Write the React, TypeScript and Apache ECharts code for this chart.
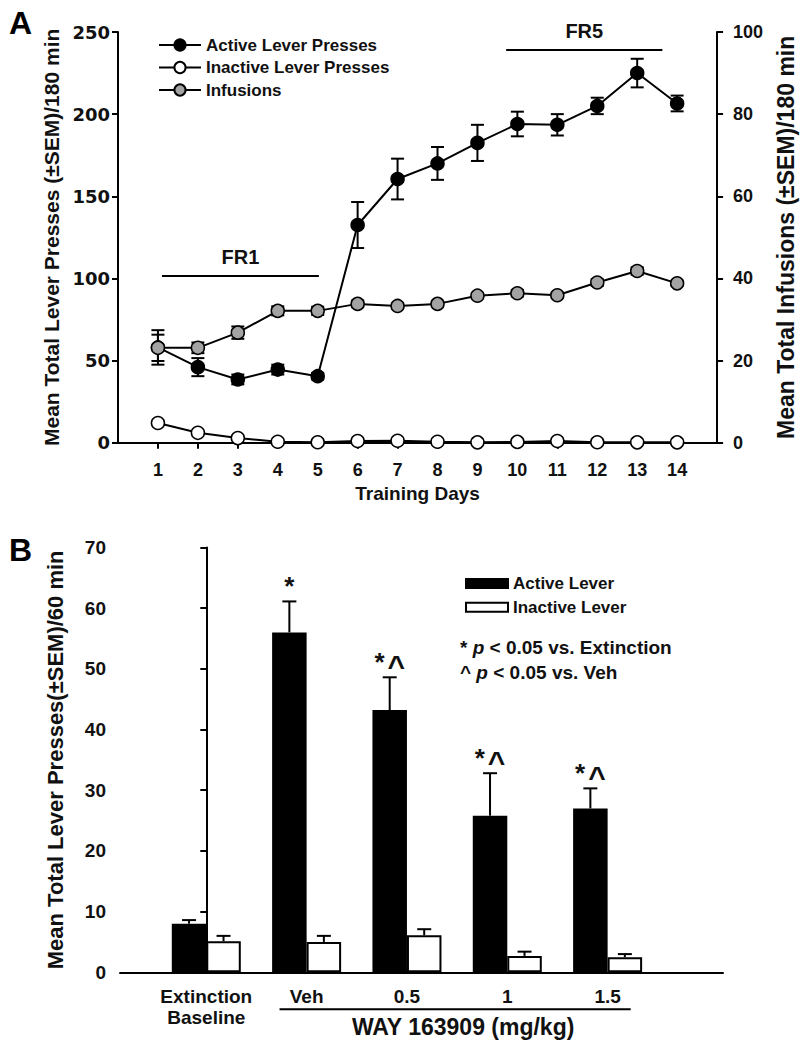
import React, { useEffect, useRef } from "react";
import * as echarts from "echarts";

const FONT = '"Liberation Sans", Arial, Helvetica, sans-serif';
const WIDE = '"DejaVu Sans", sans-serif';

// ---------- Panel A data ----------
const trainingDays = [1, 2, 3, 4, 5, 6, 7, 8, 9, 10, 11, 12, 13, 14];
const activePresses = [58, 46, 38.5, 44.5, 40.5, 132.5, 160.5, 170, 182.5, 194, 193.5, 205, 225, 206.5];
const activeSem = [10.5, 5.5, 3, 3, 2, 14, 12.4, 10, 11, 7.5, 6.5, 5, 8.7, 4.8];
const inactivePresses = [12, 6, 2.8, 0.6, 0.3, 1, 1.2, 0.6, 0.2, 0.5, 1, 0.3, 0.2, 0.2];
const infusions = [23.1, 23.1, 26.8, 32.1, 32.1, 33.8, 33.3, 33.8, 35.8, 36.4, 35.9, 39, 41.8, 38.8];
const infusionSem = [3.2, 1.3, 1.5, 1.1, 1.0, 0.8, 0.6, 0.6, 0.6, 0.8, 0.6, 0.8, 0.9, 0.6];
const phaseLabels = ["FR1", "FR5"];
const phaseStart = [1.1, 9.72];
const phaseEnd = [5.03, 13.63];
const phaseLevel = [101.5, 239];

// ---------- Panel B data ----------
const conditions = ["Extinction\nBaseline", "Veh", "0.5", "1", "1.5"];
const activeLever = [8.0, 56.0, 43.2, 25.8, 27.0];
const activeLeverSem = [0.6, 5.1, 5.4, 7.0, 3.3];
const inactiveLever = [5.1, 5.0, 6.1, 2.7, 2.5];
const inactiveLeverSem = [0.9, 1.0, 1.0, 0.7, 0.5];
const significance = ["", "*", "*{c|^}", "*{c|^}", "*{c|^}"];
const drugLabel = "WAY 163909 (mg/kg)";
const drugFrom = 0.73;
const drugTo = 4.23;
const drugLabelAt = 2.56;

const BAR_W = 34.5;

function errorBars(offsetPx: number, capHalf: number, upOnly: boolean) {
  return (params: any, api: any) => {
    const x = api.value(0);
    const y = api.value(1);
    const e = api.value(2);
    const top = api.coord([x, y + e]);
    const bot = upOnly ? api.coord([x, y]) : api.coord([x, y - e]);
    const cx = top[0] + offsetPx;
    const st = { stroke: "#000", lineWidth: 2 };
    const children: any[] = [
      { type: "line", shape: { x1: cx, y1: top[1], x2: cx, y2: bot[1] }, style: st },
      { type: "line", shape: { x1: cx - capHalf, y1: top[1], x2: cx + capHalf, y2: top[1] }, style: st },
    ];
    if (!upOnly) {
      children.push({ type: "line", shape: { x1: cx - capHalf, y1: bot[1], x2: cx + capHalf, y2: bot[1] }, style: st });
    }
    return { type: "group", children };
  };
}

function buildOption(): any {
  const lineCommon = {
    type: "line",
    xAxisIndex: 0,
    symbol: "circle",
    symbolSize: 13,
    lineStyle: { color: "#000", width: 2 },
    z: 3,
  };
  return {
    animation: false,
    backgroundColor: "#fff",
    textStyle: { fontFamily: FONT },
    grid: [
      { left: 118, top: 32, width: 608, height: 410.7 },
      { left: 120, top: 547.4, width: 603, height: 424.9 },
    ],
    legend: [
      {
        data: ["Active Lever Presses", "Inactive Lever Presses", "Infusions"],
        left: 153,
        top: 31.5,
        orient: "vertical",
        itemWidth: 42,
        itemHeight: 14,
        itemGap: 5.5,
        textStyle: { fontFamily: FONT, fontWeight: "bold", fontSize: 17, color: "#111" },
      },
      {
        data: ["Active Lever", "Inactive Lever"],
        left: 460,
        top: 570,
        orient: "vertical",
        icon: "rect",
        itemWidth: 42,
        itemHeight: 9,
        itemGap: 6.7,
        textStyle: { fontFamily: FONT, fontWeight: "bold", fontSize: 17, color: "#111" },
      },
    ],
    xAxis: [
      {
        type: "value",
        gridIndex: 0,
        min: 0,
        max: 15,
        splitLine: { show: false },
        axisLine: { lineStyle: { color: "#000", width: 2 } },
        axisTick: { customValues: trainingDays, length: 6, lineStyle: { color: "#000", width: 2 } },
        axisLabel: {
          customValues: trainingDays,
          margin: 18,
          fontFamily: FONT,
          fontWeight: "bold",
          fontSize: 18,
          color: "#111",
        },
        name: "Training Days",
        nameLocation: "middle",
        nameGap: 41,
        nameTextStyle: { fontFamily: FONT, fontWeight: "bold", fontSize: 19, color: "#111" },
      },
      {
        type: "value",
        gridIndex: 1,
        min: -0.86,
        max: 5.15,
        splitLine: { show: false },
        axisLine: { lineStyle: { color: "#000", width: 2 } },
        axisTick: { show: false },
        axisLabel: {
          customValues: [0, 1, 2, 3, 4],
          formatter: (v: number) => conditions[Math.round(v)] ?? "",
          margin: 14,
          fontFamily: FONT,
          fontWeight: "bold",
          fontSize: 19,
          lineHeight: 21,
          color: "#111",
        },
      },
    ],
    yAxis: [
      {
        type: "value",
        gridIndex: 0,
        position: "left",
        min: 0,
        max: 250,
        interval: 50,
        splitLine: { show: false },
        axisLine: { show: true, lineStyle: { color: "#000", width: 2 } },
        axisTick: { show: true, length: 6, lineStyle: { color: "#000", width: 2 } },
        axisLabel: { margin: 8, fontFamily: WIDE, fontWeight: "bold", fontSize: 18, color: "#111" },
        name: "Mean Total Lever Presses (±SEM)/180 min",
        nameLocation: "middle",
        nameRotate: 90,
        nameGap: 51,
        nameTextStyle: { fontFamily: FONT, fontWeight: "bold", fontSize: 21, color: "#111" },
      },
      {
        type: "value",
        gridIndex: 0,
        position: "right",
        min: 0,
        max: 100,
        interval: 20,
        splitLine: { show: false },
        axisLine: { show: true, lineStyle: { color: "#000", width: 2 } },
        axisTick: { show: true, length: 6, lineStyle: { color: "#000", width: 2 } },
        axisLabel: { margin: 16, fontFamily: FONT, fontWeight: "bold", fontSize: 18, color: "#111" },
        name: "Mean Total Infusions (±SEM)/180 min",
        nameLocation: "middle",
        nameRotate: 90,
        nameGap: 48,
        nameTextStyle: { fontFamily: FONT, fontWeight: "bold", fontSize: 23, color: "#111" },
      },
      {
        type: "value",
        gridIndex: 1,
        position: "left",
        min: 0,
        max: 70,
        interval: 10,
        splitLine: { show: false },
        axisLine: { show: true, lineStyle: { color: "#000", width: 2 } },
        axisTick: { show: true, length: 6, lineStyle: { color: "#000", width: 2 } },
        axisLabel: { margin: 14, fontFamily: FONT, fontWeight: "bold", fontSize: 19, color: "#111" },
        name: "Mean Total Lever Presses(±SEM)/60 min",
        nameLocation: "middle",
        nameRotate: 90,
        nameGap: 54,
        nameTextStyle: { fontFamily: FONT, fontWeight: "bold", fontSize: 22, color: "#111" },
      },
    ],
    graphic: [
      { type: "text", x: 9, y: 23, style: { text: "A", fontFamily: FONT, fontWeight: "bold", fontSize: 32, fill: "#000", textVerticalAlign: "middle" } },
      { type: "text", x: 9, y: 550, style: { text: "B", fontFamily: FONT, fontWeight: "bold", fontSize: 32, fill: "#000", textVerticalAlign: "middle" } },
      {
        type: "text",
        x: 460,
        y: 647,
        style: {
          text: "* {it|p} < 0.05 vs. Extinction",
          fontFamily: FONT,
          fontWeight: "bold",
          fontSize: 19,
          fill: "#111",
          textVerticalAlign: "middle",
          rich: { it: { fontStyle: "italic", fontWeight: "bold", fontSize: 19, fontFamily: FONT } },
        },
      },
      {
        type: "text",
        x: 460,
        y: 672,
        style: {
          text: "^ {it|p} < 0.05 vs. Veh",
          fontFamily: FONT,
          fontWeight: "bold",
          fontSize: 19,
          fill: "#111",
          textVerticalAlign: "middle",
          rich: { it: { fontStyle: "italic", fontWeight: "bold", fontSize: 19, fontFamily: FONT } },
        },
      },
    ],
    series: [
      // Panel A error bars
      {
        type: "custom",
        name: "activeErr",
        xAxisIndex: 0,
        yAxisIndex: 0,
        z: 1,
        renderItem: errorBars(0, 6.5, false),
        data: trainingDays.map((d, i) => [d, activePresses[i], activeSem[i]]),
      },
      {
        type: "custom",
        name: "infErr",
        xAxisIndex: 0,
        yAxisIndex: 1,
        z: 1,
        renderItem: errorBars(0, 6.5, false),
        data: trainingDays.map((d, i) => [d, infusions[i], infusionSem[i]]),
      },
      {
        ...lineCommon,
        name: "Active Lever Presses",
        yAxisIndex: 0,
        itemStyle: { color: "#000", borderColor: "#000", borderWidth: 1.5 },
        data: trainingDays.map((d, i) => [d, activePresses[i]]),
      },
      {
        ...lineCommon,
        name: "Inactive Lever Presses",
        yAxisIndex: 0,
        itemStyle: { color: "#fff", borderColor: "#000", borderWidth: 1.5 },
        data: trainingDays.map((d, i) => [d, inactivePresses[i]]),
      },
      {
        ...lineCommon,
        name: "Infusions",
        yAxisIndex: 1,
        itemStyle: { color: "#a3a3a3", borderColor: "#000", borderWidth: 1.5 },
        data: trainingDays.map((d, i) => [d, infusions[i]]),
      },
      // FR phase annotations
      {
        type: "custom",
        name: "phases",
        xAxisIndex: 0,
        yAxisIndex: 0,
        z: 2,
        data: phaseLabels.map((_, i) => [phaseStart[i], phaseEnd[i], phaseLevel[i]]),
        renderItem: (params: any, api: any) => {
          const p1 = api.coord([api.value(0), api.value(2)]);
          const p2 = api.coord([api.value(1), api.value(2)]);
          return {
            type: "group",
            children: [
              { type: "line", shape: { x1: p1[0], y1: p1[1], x2: p2[0], y2: p2[1] }, style: { stroke: "#000", lineWidth: 2 } },
              {
                type: "text",
                x: (p1[0] + p2[0]) / 2,
                y: p1[1] - 19,
                style: {
                  text: phaseLabels[params.dataIndex],
                  fontFamily: FONT,
                  fontWeight: "bold",
                  fontSize: 20,
                  fill: "#111",
                  textAlign: "center",
                  textVerticalAlign: "middle",
                },
              },
            ],
          };
        },
      },
      // Panel B bars
      {
        type: "bar",
        name: "Active Lever",
        xAxisIndex: 1,
        yAxisIndex: 2,
        barWidth: BAR_W,
        barGap: "0%",
        itemStyle: { color: "#000", borderColor: "#000", borderWidth: 2 },
        data: activeLever.map((v, i) => [i, v]),
        z: 2,
      },
      {
        type: "bar",
        name: "Inactive Lever",
        xAxisIndex: 1,
        yAxisIndex: 2,
        barWidth: BAR_W,
        barGap: "0%",
        itemStyle: { color: "#fff", borderColor: "#000", borderWidth: 2 },
        data: inactiveLever.map((v, i) => [i, v]),
        z: 2,
      },
      {
        type: "custom",
        name: "activeLeverErr",
        xAxisIndex: 1,
        yAxisIndex: 2,
        z: 1,
        renderItem: errorBars(-BAR_W / 2, 7, true),
        data: activeLever.map((v, i) => [i, v, activeLeverSem[i]]),
      },
      {
        type: "custom",
        name: "inactiveLeverErr",
        xAxisIndex: 1,
        yAxisIndex: 2,
        z: 1,
        renderItem: errorBars(BAR_W / 2, 7, true),
        data: inactiveLever.map((v, i) => [i, v, inactiveLeverSem[i]]),
      },
      {
        type: "custom",
        name: "significance",
        xAxisIndex: 1,
        yAxisIndex: 2,
        z: 3,
        data: activeLever.map((v, i) => [i, v + activeLeverSem[i]]),
        renderItem: (params: any, api: any) => {
          const txt = significance[params.dataIndex];
          if (!txt) return null;
          const p = api.coord([api.value(0), api.value(1)]);
          return {
            type: "text",
            x: p[0] - BAR_W / 2,
            y: p[1] - 15,
            style: {
              text: txt,
              fontFamily: FONT,
              fontWeight: "bold",
              fontSize: 26,
              fill: "#111",
              textAlign: "center",
              textVerticalAlign: "middle",
              rich: {
                c: { fontFamily: FONT, fontWeight: "bold", fontSize: 30, padding: [6, 0, 0, 3] },
              },
            },
          };
        },
      },
      {
        type: "custom",
        name: "drugBracket",
        xAxisIndex: 1,
        yAxisIndex: 2,
        z: 3,
        data: [[drugFrom, drugTo, drugLabelAt]],
        renderItem: (params: any, api: any) => {
          const p1 = api.coord([api.value(0), 0]);
          const p2 = api.coord([api.value(1), 0]);
          const pt = api.coord([api.value(2), 0]);
          return {
            type: "group",
            children: [
              { type: "line", shape: { x1: p1[0], y1: p1[1] + 37, x2: p2[0], y2: p2[1] + 37 }, style: { stroke: "#000", lineWidth: 2 } },
              {
                type: "text",
                x: pt[0],
                y: pt[1] + 55,
                style: {
                  text: drugLabel,
                  fontFamily: FONT,
                  fontWeight: "bold",
                  fontSize: 23,
                  fill: "#111",
                  textAlign: "center",
                  textVerticalAlign: "middle",
                },
              },
            ],
          };
        },
      },
    ],
  };
}

export default function App() {
  const ref = useRef<HTMLDivElement>(null);
  useEffect(() => {
    if (!ref.current) return;
    const chart = echarts.init(ref.current, null, { renderer: "svg" });
    chart.setOption(buildOption());
    return () => chart.dispose();
  }, []);
  return (
    <div
      ref={ref}
      style={{ position: "absolute", left: 0, top: 0, width: 805, height: 1050, background: "#fff" }}
    />
  );
}
